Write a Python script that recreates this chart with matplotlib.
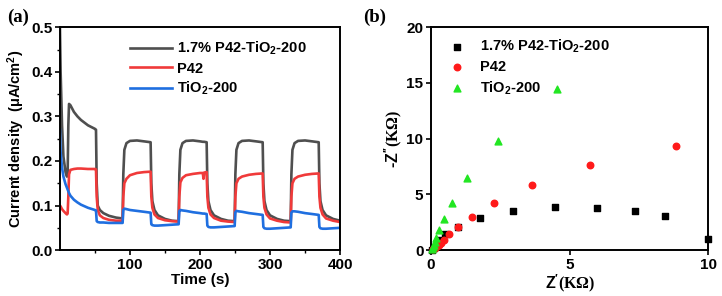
import matplotlib
matplotlib.use("Agg")
import matplotlib.pyplot as plt
from matplotlib.ticker import MultipleLocator, FixedLocator, FormatStrFormatter

plt.rcParams['font.family'] = ['Liberation Sans', 'DejaVu Sans']
plt.rcParams['font.weight'] = 'bold'
plt.rcParams['mathtext.fontset'] = 'custom'
plt.rcParams['mathtext.rm'] = 'Liberation Serif'
plt.rcParams['mathtext.bf'] = 'Liberation Sans:bold'
plt.rcParams['mathtext.it'] = 'Liberation Sans:bold'
plt.rcParams['mathtext.default'] = 'bf'

# ---------------- Panel (a): photocurrent ----------------
time_s = [0, 1, 3, 5, 8, 10, 11, 12, 13, 15, 20, 25, 30, 40, 50, 51.5, 52.5, 54, 57, 62, 70, 80, 89.5,
          90.5, 92, 95, 100, 110, 120, 129.5, 130.5, 132, 135, 140, 150, 160, 169.5,
          170.5, 172, 175, 180, 190, 200, 204, 205, 206, 209.5, 210.5, 212, 215, 220, 230, 240, 249.5,
          250.5, 252, 255, 260, 270, 280, 289.5, 290.5, 292, 295, 300, 310, 320, 329.5,
          330.5, 332, 335, 340, 350, 360, 369.5, 370.5, 372, 375, 380, 390, 400]
current_composite = [0.50, 0.40, 0.28, 0.21, 0.175, 0.165, 0.17, 0.28, 0.328, 0.325, 0.31, 0.30, 0.292, 0.28, 0.272, 0.27, 0.15, 0.10, 0.09, 0.083, 0.077, 0.073, 0.071,
                     0.17, 0.225, 0.24, 0.245, 0.246, 0.244, 0.242, 0.15, 0.11, 0.09, 0.078, 0.07, 0.066, 0.065,
                     0.17, 0.225, 0.24, 0.245, 0.246, 0.244, 0.243, 0.243, 0.243, 0.242, 0.15, 0.11, 0.09, 0.078, 0.07, 0.066, 0.065,
                     0.17, 0.225, 0.24, 0.245, 0.246, 0.244, 0.242, 0.15, 0.11, 0.09, 0.078, 0.07, 0.066, 0.065,
                     0.17, 0.225, 0.24, 0.245, 0.246, 0.244, 0.242, 0.15, 0.11, 0.09, 0.078, 0.07, 0.066]
current_p42 = [0.10, 0.098, 0.092, 0.088, 0.083, 0.080, 0.082, 0.12, 0.17, 0.18, 0.182, 0.183, 0.183, 0.182, 0.182, 0.181, 0.12, 0.09, 0.078, 0.072, 0.068, 0.066, 0.066,
               0.12, 0.15, 0.16, 0.168, 0.173, 0.175, 0.176, 0.12, 0.095, 0.08, 0.072, 0.067, 0.065, 0.064,
               0.12, 0.152, 0.162, 0.168, 0.171, 0.173, 0.173, 0.16, 0.174, 0.175, 0.12, 0.095, 0.08, 0.072, 0.066, 0.064, 0.063,
               0.12, 0.15, 0.16, 0.165, 0.169, 0.171, 0.172, 0.12, 0.095, 0.08, 0.071, 0.066, 0.063, 0.062,
               0.12, 0.15, 0.16, 0.165, 0.169, 0.171, 0.172, 0.12, 0.095, 0.08, 0.071, 0.066, 0.063]
current_tio2 = [0.27, 0.22, 0.185, 0.165, 0.148, 0.14, 0.136, 0.132, 0.128, 0.122, 0.113, 0.107, 0.102, 0.095, 0.09, 0.089, 0.065, 0.063, 0.062, 0.062, 0.061, 0.061, 0.061,
                0.09, 0.093, 0.092, 0.09, 0.088, 0.086, 0.084, 0.058, 0.056, 0.055, 0.055, 0.056, 0.057, 0.058,
                0.088, 0.09, 0.089, 0.088, 0.085, 0.083, 0.082, 0.082, 0.082, 0.081, 0.055, 0.052, 0.051, 0.051, 0.052, 0.053, 0.054,
                0.085, 0.088, 0.087, 0.086, 0.083, 0.081, 0.079, 0.052, 0.049, 0.048, 0.048, 0.049, 0.05, 0.051,
                0.084, 0.087, 0.087, 0.086, 0.083, 0.081, 0.079, 0.052, 0.049, 0.048, 0.048, 0.049, 0.05]

labels_a = ['1.7% P42-TiO$_2$-200', 'P42', 'TiO$_2$-200']
colors_a = ['#4f4f4f', '#f03a3a', '#1f6fe0']

# ---------------- Panel (b): Nyquist ----------------
zre_composite = [0.05, 0.1, 0.18, 0.28, 0.5, 0.98, 1.78, 2.97, 4.47, 6.0, 7.35, 8.45, 10.0]
zim_composite = [0.05, 0.2, 0.5, 0.9, 1.45, 2.1, 2.9, 3.55, 3.85, 3.8, 3.5, 3.1, 1.0]
zre_p42 = [0.08, 0.15, 0.22, 0.3, 0.37, 0.46, 0.66, 0.97, 1.47, 2.26, 3.64, 5.75, 8.82]
zim_p42 = [0.1, 0.2, 0.35, 0.5, 0.68, 0.95, 1.45, 2.05, 3.0, 4.2, 5.8, 7.65, 9.3]
zre_tio2 = [0.04, 0.07, 0.1, 0.13, 0.18, 0.3, 0.47, 0.77, 1.31, 2.4, 4.56]
zim_tio2 = [0.1, 0.25, 0.45, 0.7, 1.1, 1.8, 2.8, 4.2, 6.5, 9.8, 14.5]

fig = plt.figure(figsize=(7.22, 2.96), dpi=100)
ax1 = fig.add_axes([0.083, 0.155, 0.388, 0.753])
ax2 = fig.add_axes([0.597, 0.155, 0.384, 0.753])

for vals, lab, col in zip([current_composite, current_p42, current_tio2], labels_a, colors_a):
    ax1.plot(time_s, vals, color=col, lw=1.9, label=lab)

ax1.set_xlim(0, 400)
ax1.set_ylim(0, 0.5)
ax1.xaxis.set_major_locator(FixedLocator([100, 200, 300, 400]))
ax1.xaxis.set_minor_locator(FixedLocator([50, 150, 250, 350]))
ax1.yaxis.set_major_locator(MultipleLocator(0.1))
ax1.yaxis.set_minor_locator(MultipleLocator(0.05))
ax1.yaxis.set_major_formatter(FormatStrFormatter('%.1f'))
ax1.set_xlabel('Time (s)', fontsize=11, fontweight='bold', labelpad=1)
ax1.set_ylabel('Current density  (μA/cm$^2$)', fontsize=10.5, fontweight='bold', labelpad=3)
ax1.legend(loc='upper left', bbox_to_anchor=(0.23, 0.97), frameon=False, fontsize=10.5,
           handlelength=2.9, handletextpad=0.3, labelspacing=0.3, borderaxespad=0)

ax2.scatter(zre_composite, zim_composite, marker='s', s=20, color='black', label='1.7% P42-TiO$_2$-200', clip_on=False, zorder=3)
ax2.scatter(zre_p42, zim_p42, marker='o', s=22, color='#ff1a1a', label='P42', clip_on=False, zorder=3)
ax2.scatter(zre_tio2, zim_tio2, marker='^', s=24, color='#22e622', label='TiO$_2$-200', clip_on=False, zorder=3)
ax2.set_xlim(0, 10)
ax2.set_ylim(0, 20)
ax2.xaxis.set_major_locator(MultipleLocator(5))
ax2.yaxis.set_major_locator(MultipleLocator(5))
ax2.set_xlabel(r"$\mathbf{Z}^{\prime}\mathrm{(K\Omega)}$", fontsize=11.5, labelpad=0)
ax2.set_ylabel(r"-$\mathbf{Z}^{\prime\prime}\mathrm{(K\Omega)}$", fontsize=11.5, fontweight='bold', labelpad=2)
ax2.legend(loc='upper left', bbox_to_anchor=(0.02, 0.98), frameon=False, fontsize=10.5,
           handletextpad=0.6, labelspacing=0.35, borderaxespad=0, scatterpoints=1)

for ax in (ax1, ax2):
    for sp in ax.spines.values():
        sp.set_linewidth(1.4)
    ax.tick_params(which='major', direction='out', length=3.5, width=1.2, labelsize=11, pad=2)
    ax.tick_params(which='minor', direction='out', length=2, width=1.0)
    for lbl in ax.get_xticklabels() + ax.get_yticklabels():
        lbl.set_fontweight('bold')

fig.text(0.010, 0.925, '(a)', fontsize=13.5, fontweight='bold', family='Liberation Serif')
fig.text(0.503, 0.925, '(b)', fontsize=13.5, fontweight='bold', family='Liberation Serif')

fig.savefig('out.png', dpi=100)
